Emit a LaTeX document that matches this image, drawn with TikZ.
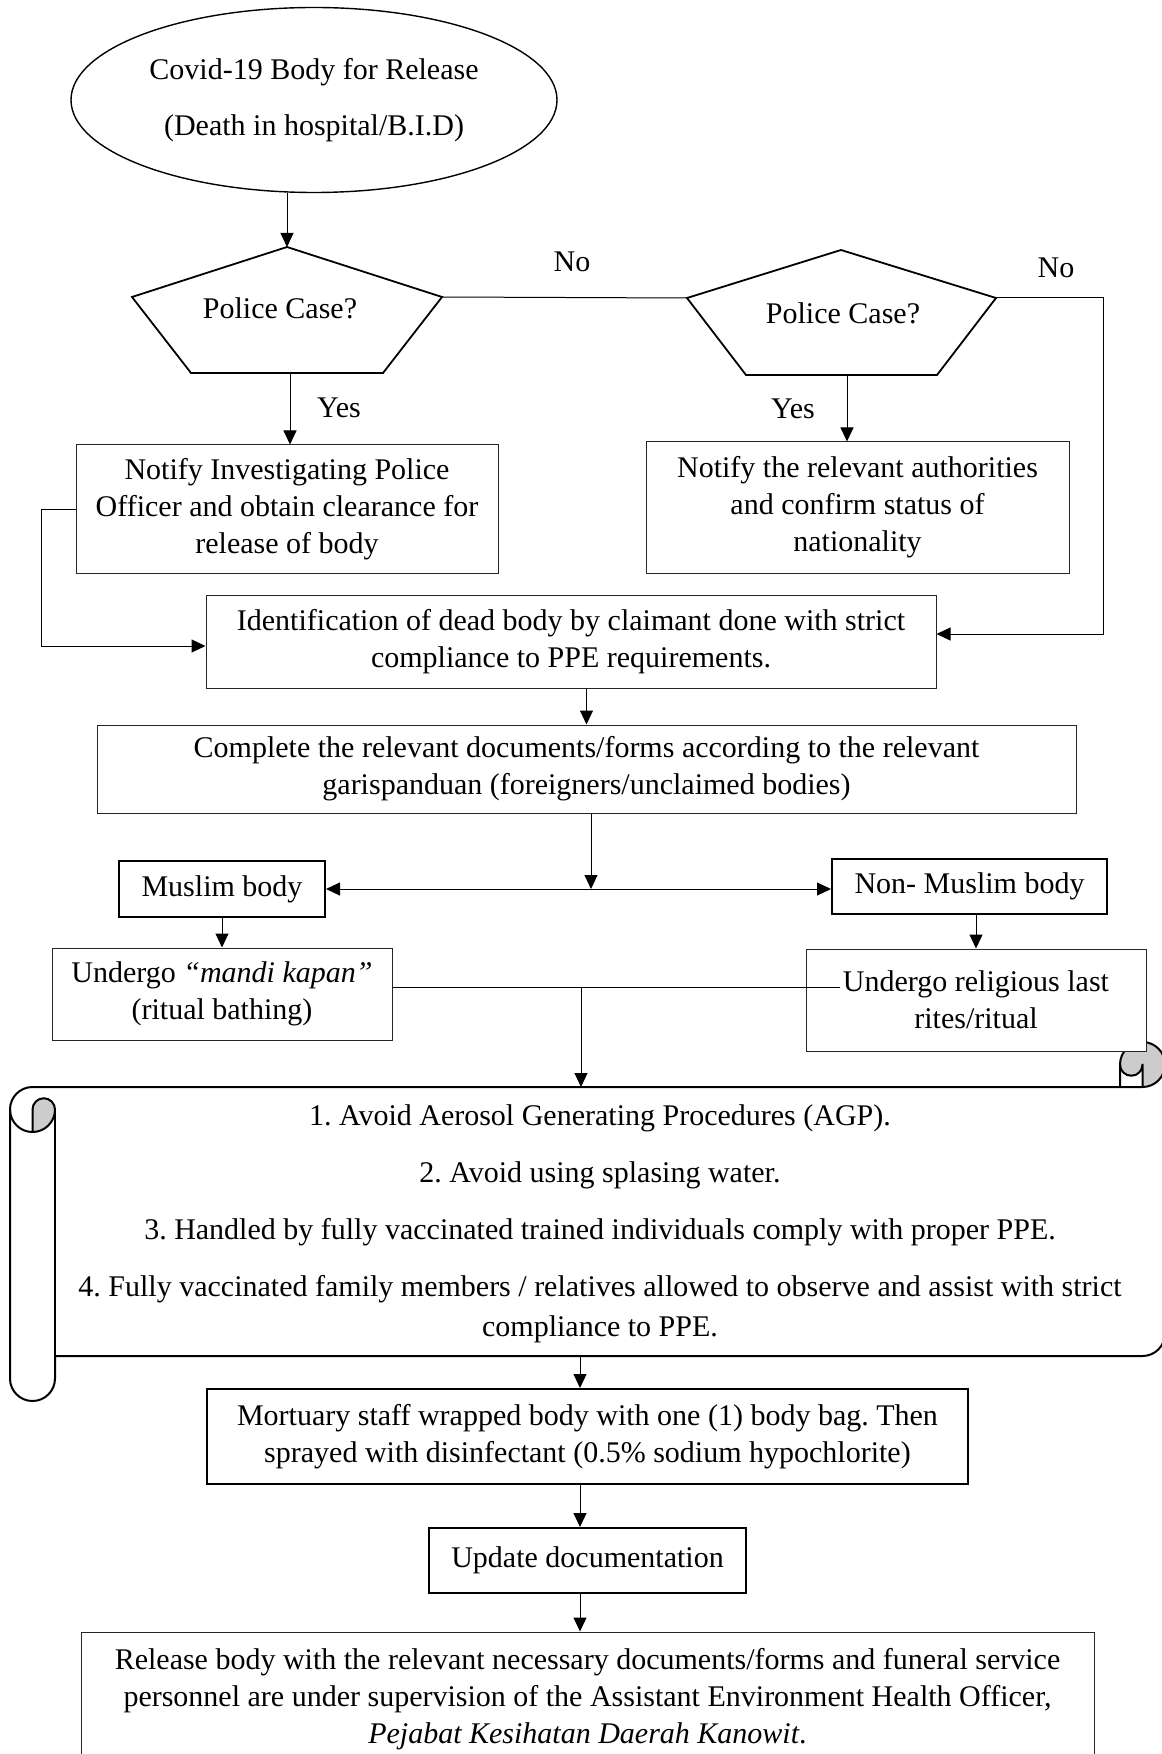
\documentclass[tikz,border=0pt]{standalone}
\usepackage{fontspec}
\setmainfont{Liberation Serif}
\usetikzlibrary{arrows.meta,shapes.geometric}
\frenchspacing

\tikzset{
    txt/.style={font=\fontsize{15}{18.5}\selectfont, align=center, inner sep=0pt},
    box/.style={txt, draw=black!85, line width=0.5pt, fill=white},
    boldbox/.style={txt, draw=black, line width=1pt, fill=white},
    lbl/.style={font=\fontsize{15}{18.5}\selectfont, inner sep=0pt},
    conn/.style={line width=0.5pt},
    arr/.style={conn, -{Triangle[length=7pt,width=6.5pt]}},
    arrboth/.style={conn, {Triangle[length=7pt,width=6.5pt]}-{Triangle[length=7pt,width=6.5pt]}},
    pent/.style={line width=0.9pt, line join=miter},
    scrl/.style={line width=1pt, line join=round},
}

\begin{document}
\begin{tikzpicture}[x=0.5pt, y=-0.5pt]
    \useasboundingbox (0,0) rectangle (1161,1754);

    % Scroll (drawn first, so the boxes sit on top of its curl)
    \fill[black!20] (32.5,1132) -- (32.5,1109.5) arc[start angle=180, end angle=0, radius=5.625pt]
        arc[start angle=0, end angle=-90, radius=11.25pt] -- cycle;
    \fill[black!20] (1142.5,1087) arc[start angle=-90, end angle=180, radius=11.25pt]
        arc[start angle=180, end angle=360, radius=5.625pt] -- cycle;
    \draw[scrl] (10,1109.5) arc[start angle=180, end angle=90, radius=11.25pt]
        -- (1120,1087) -- (1120,1064.5) arc[start angle=180, end angle=0, radius=11.25pt]
        -- (1165,1333.5) arc[start angle=0, end angle=-90, radius=11.25pt]
        -- (55,1356) -- (55,1378.5) arc[start angle=0, end angle=-180, radius=11.25pt] -- cycle;
    \draw[scrl] (1120,1087) -- (1142.5,1087) arc[start angle=-90, end angle=0, radius=11.25pt];
    \draw[scrl] (1142.5,1087) -- (1142.5,1064.5) arc[start angle=0, end angle=-180, radius=5.625pt];
    \draw[scrl] (32.5,1132) -- (32.5,1109.5) arc[start angle=180, end angle=0, radius=5.625pt]
        arc[start angle=0, end angle=-180, radius=11.25pt];
    \draw[scrl] (55,1109.5) -- (55,1356);

    % Start
    \node[ellipse, draw, line width=0.7pt, minimum width=243pt, minimum height=92.5pt, txt,
          font=\fontsize{15}{28}\selectfont] (start) at (314,100)
          {Covid-19 Body for Release\\(Death in hospital/B.I.D)};

    % Decision pentagons
    \coordinate (p1t) at (287,247);
    \coordinate (p1ur) at (442,297);
    \coordinate (p1lr) at (383,373);
    \coordinate (p1ll) at (191,373);
    \coordinate (p1ul) at (132,297);
    \coordinate (p1b) at (290,373);
    \draw[pent] (p1t) -- (p1ur) -- (p1lr) -- (p1ll) -- (p1ul) -- cycle;
    \node[lbl] (case1) at (280,308) {Police Case?};

    \coordinate (p2t) at (841,250);
    \coordinate (p2ur) at (996,298);
    \coordinate (p2lr) at (937,375);
    \coordinate (p2ll) at (746,375);
    \coordinate (p2ul) at (687,298);
    \coordinate (p2b) at (847,375);
    \draw[pent] (p2t) -- (p2ur) -- (p2lr) -- (p2ll) -- (p2ul) -- cycle;
    \node[lbl] (case2) at (843,313) {Police Case?};

    % Boxes
    \node[box, minimum width=211pt, minimum height=64pt] (notifyPolice) at (287,509)
        {Notify Investigating Police\\Officer and obtain clearance for\\release of body};
    \node[box, minimum width=211.5pt, minimum height=65.5pt] (notifyAuth) at (857.5,507.5)
        {Notify the relevant authorities\\and confirm status of\\nationality};
    \node[box, minimum width=365pt, minimum height=46.5pt] (ident) at (571,641.5)
        {Identification of dead body by claimant done with strict\\compliance to PPE requirements.};
    \node[box, minimum width=489.5pt, minimum height=44pt] (docs) at (586.5,769)
        {Complete the relevant documents/forms according to the relevant\\garispanduan (foreigners/unclaimed bodies)};
    \node[boldbox, minimum width=103pt, minimum height=28pt] (muslim) at (222,889) {Muslim body};
    \node[boldbox, minimum width=137.5pt, minimum height=27.5pt] (nonmus) at (969.5,886.5) {Non- Muslim body};
    \node[box, minimum width=170pt, minimum height=46pt] (mandi) at (222,994)
        {Undergo \textit{“mandi kapan”}\\(ritual bathing)};
    \node[box, minimum width=170pt, minimum height=51pt] (relig) at (976,1000)
        {Undergo religious last\\rites/ritual};

    % Scroll text
    \node[txt, font=\fontsize{15}{20}\selectfont] (rules) at (600,1224)
        {1. Avoid Aerosol Generating Procedures (AGP).\\[8.5pt]
         2. Avoid using splasing water.\\[8.5pt]
         3. Handled by fully vaccinated trained individuals comply with proper PPE.\\[8.5pt]
         4. Fully vaccinated family members / relatives allowed to observe and assist with strict\\
         compliance to PPE.};

    \node[boldbox, minimum width=380.5pt, minimum height=47.5pt] (mort) at (587.5,1436.5)
        {Mortuary staff wrapped body with one (1) body bag. Then\\sprayed with disinfectant (0.5\% sodium hypochlorite)};
    \node[boldbox, minimum width=158.5pt, minimum height=32.5pt] (update) at (587.5,1560.5) {Update documentation};
    \node[box, minimum width=506.5pt, minimum height=67pt] (release) at (587.5,1699)
        {Release body with the relevant necessary documents/forms and funeral service\\
         personnel are under supervision of the Assistant Environment Health Officer,\\
         \textit{Pejabat Kesihatan Daerah Kanowit}.};

    % Connectors
    \draw[arr] (start.south -| p1t) -- (p1t);
    \draw[conn] (p1ur) -- (p2ul);
    \node[lbl] (no1) at (572,262) {No};
    \coordinate (railR) at (1103,298);
    \draw[arr] (p2ur) -- (railR) |- ([yshift=3.75pt]ident.east);
    \node[lbl] (no2) at (1056,268) {No};
    \draw[arr] (p1b) -- (p1b |- notifyPolice.north);
    \node[lbl] (yes1) at (339,408) {Yes};
    \draw[arr] (p2b) -- (p2b |- notifyAuth.north);
    \node[lbl] (yes2) at (793,409) {Yes};
    \coordinate (railL) at (41,509);
    \draw[arr] (notifyPolice.west) -- (railL) |- ([yshift=-2.25pt]ident.west);
    \draw[arr] (ident.south -| docs.north) -- (docs.north);
    \coordinate (split) at (591,889);
    \draw[arr] (docs.south -| split) -- (split);
    \draw[arrboth] (muslim.east) -- (muslim.east -| nonmus.west);
    \draw[arr] (muslim) -- (mandi);
    \draw[arr] (nonmus.south -| relig.north) -- (relig.north);
    \coordinate (mergeR) at (840,987);
    \coordinate (mergeC) at (581,987);
    \coordinate (scrollTop) at (581,1087);
    \draw[conn] ([yshift=3.5pt]mandi.east) -- (mergeR);
    \draw[arr] (mergeC) -- (scrollTop);
    \coordinate (scrollBot) at (580,1356);
    \draw[arr] (scrollBot) -- (scrollBot |- mort.north);
    \draw[arr] (mort.south -| scrollBot) -- (scrollBot |- update.north);
    \draw[arr] (update.south -| scrollBot) -- (scrollBot |- release.north);
\end{tikzpicture}
\end{document}
